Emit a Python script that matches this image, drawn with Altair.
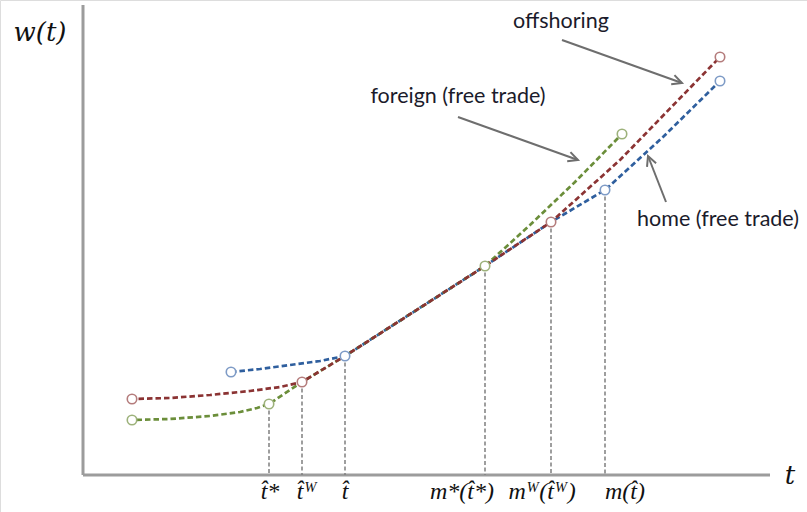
import altair as alt
import numpy as np
import pandas as pd

# Wage schedules w(t): t along the horizontal axis, w(t) vertical (schematic units)
home_t = [14.8, 17.7, 20.7, 23.7, 26.2, 40.2, 46.8, 52.2, 58.0, 63.7]
home_w = [10.3, 10.6, 11.0, 11.4, 11.9, 20.9, 25.3, 28.5, 33.8, 39.4]
home_mark = [1, 0, 0, 0, 1, 0, 0, 1, 0, 1]

off_t = [4.9, 8.7, 12.7, 16.7, 19.7, 21.9, 26.2, 40.2, 46.8, 53.7, 63.7]
off_w = [7.6, 7.7, 8.0, 8.4, 8.8, 9.3, 11.9, 20.9, 25.3, 31.5, 41.8]
off_mark = [1, 0, 0, 0, 0, 1, 0, 0, 1, 0, 1]

for_t = [4.9, 8.7, 12.7, 15.7, 17.4, 18.6, 21.9, 26.2, 40.2, 44.7, 49.2, 53.9]
for_w = [5.5, 5.6, 5.9, 6.3, 6.7, 7.1, 9.3, 11.9, 20.9, 25.0, 29.3, 34.1]
for_mark = [1, 0, 0, 0, 0, 1, 0, 0, 1, 0, 0, 1]

# Thresholds marked on the t axis
thr_t = [18.6, 21.9, 26.2, 40.2, 46.8, 52.2]
thr_w = [7.1, 9.3, 11.9, 20.9, 25.3, 28.5]
thr_label = ["t\u0302*", "t\u0302\u1D42", "t\u0302",
             "m*(t\u0302*)", "m\u1D42(t\u0302\u1D42)", "m(t\u0302)"]
thr_label_t = [18.7, 22.4, 26.2, 37.9, 45.9, 54.2]

# Annotations with arrows
note_text = ["offshoring", "foreign (free trade)", "home (free trade)"]
note_t = [47.8, 37.5, 63.5]
note_w = [45.3, 37.8, 25.5]
arrow_t0 = [47.9, 37.5, 58.3]
arrow_w0 = [43.5, 35.8, 27.3]
arrow_t1 = [59.9, 49.5, 56.5]
arrow_w1 = [39.2, 31.5, 31.9]

T_MAX, W_MAX = 68.7, 47.0

XS = alt.Scale(domain=[-8.3, 72.4])
YS = alt.Scale(domain=[-3.7, 47.5])


def X(f="t"):
    return alt.X(f"{f}:Q", scale=XS, axis=None)


def Y(f="w"):
    return alt.Y(f"{f}:Q", scale=YS, axis=None)


def series(ts, ws, marks, name):
    return pd.DataFrame({"t": ts, "w": ws, "mark": marks, "series": name})


home = series(home_t, home_w, home_mark, "home")
off = series(off_t, off_w, off_mark, "offshoring")
fore = series(for_t, for_w, for_mark, "foreign")

line_color = {"home": "#2F5F9E", "offshoring": "#8B3333", "foreign": "#6B8E3A"}
ring_color = {"home": "#7E9BC6", "offshoring": "#B47C7C", "foreign": "#9DB27B"}

# Axes
axes_df = pd.DataFrame({"t": [0, 0], "w": [0, 0], "t2": [T_MAX, 0], "w2": [0, W_MAX]})
axes = alt.Chart(axes_df).mark_rule(color="#9C9C9C", strokeWidth=3).encode(
    x=X(), y=Y(), x2="t2:Q", y2="w2:Q")

# Dashed guides down to the t axis
thr_df = pd.DataFrame({"t": thr_t, "w": thr_w, "zero": 0.0,
                       "label": thr_label, "lt": thr_label_t, "lw": -1.7})
guides = alt.Chart(thr_df).mark_rule(
    color="#7F7F7F", strokeWidth=1.5, strokeDash=[4, 2.5]).encode(
    x=X(), y=Y(), y2="zero:Q")


def line_layer(df, name, offset):
    return alt.Chart(df).mark_line(
        color=line_color[name], strokeWidth=2.7, strokeDash=[5.5, 3],
        strokeDashOffset=offset, interpolate="linear").encode(
        x=X(), y=Y(), order="t:Q")


lines = [line_layer(home, "home", 0), line_layer(fore, "foreign", 4),
         line_layer(off, "offshoring", 2)]

rings_df = pd.concat([home, off, fore])
rings_df = rings_df[rings_df["mark"] == 1]
rings = alt.Chart(rings_df).mark_point(
    shape="circle", filled=True, fill="white", size=90, strokeWidth=1.6,
    opacity=1).encode(
    x=X(), y=Y(),
    stroke=alt.Stroke("series:N", scale=alt.Scale(
        domain=list(ring_color.keys()), range=list(ring_color.values())),
        legend=None))

# Annotation arrows
arr_df = pd.DataFrame({"t": arrow_t0, "w": arrow_w0, "t1": arrow_t1, "w1": arrow_w1})
arr_df["ang"] = np.degrees(np.arctan2(arr_df["t1"] - arr_df["t"],
                                      arr_df["w1"] - arr_df["w"])) % 360
shafts = alt.Chart(arr_df).mark_rule(color="#6E6E6E", strokeWidth=2).encode(
    x=X(), y=Y(), x2="t1:Q", y2="w1:Q")
heads = alt.Chart(arr_df).mark_point(
    shape="M-0.5,1L0,0L0.5,1", filled=False, color="#6E6E6E", strokeWidth=2,
    size=380, opacity=1).encode(
    x=X("t1"), y=Y("w1"), angle=alt.Angle("ang:Q", scale=None))

note_df = pd.DataFrame({"t": note_t, "w": note_w, "text": note_text})
notes = alt.Chart(note_df).mark_text(
    font="Lato", fontSize=21.5, color="#1B1B2B", align="center",
    baseline="middle").encode(x=X(), y=Y(), text="text:N")

tick_labels = alt.Chart(thr_df).mark_text(
    font="Liberation Serif", fontStyle="italic", fontSize=24, color="#111111",
    align="center", baseline="middle").encode(
    x=X("lt"), y=Y("lw"), text="label:N")

title_df = pd.DataFrame({"t": [-4.3, 70.7], "w": [44.2, -0.1], "text": ["w(t)", "t"]})
titles = alt.Chart(title_df).mark_text(
    font="DejaVu Serif", fontStyle="italic", fontSize=26, color="#111111",
    align="center", baseline="middle").encode(x=X(), y=Y(), text="text:N")

chart = alt.layer(
    axes, guides, *lines, rings, shafts, heads, notes, tick_labels, titles
).properties(
    width=807, height=512, autosize=alt.AutoSizeParams(type="none"), padding=0
).configure_view(stroke=None).configure(background="white")

chart.save("out.html", embed_options={"renderer": "svg", "actions": False})
